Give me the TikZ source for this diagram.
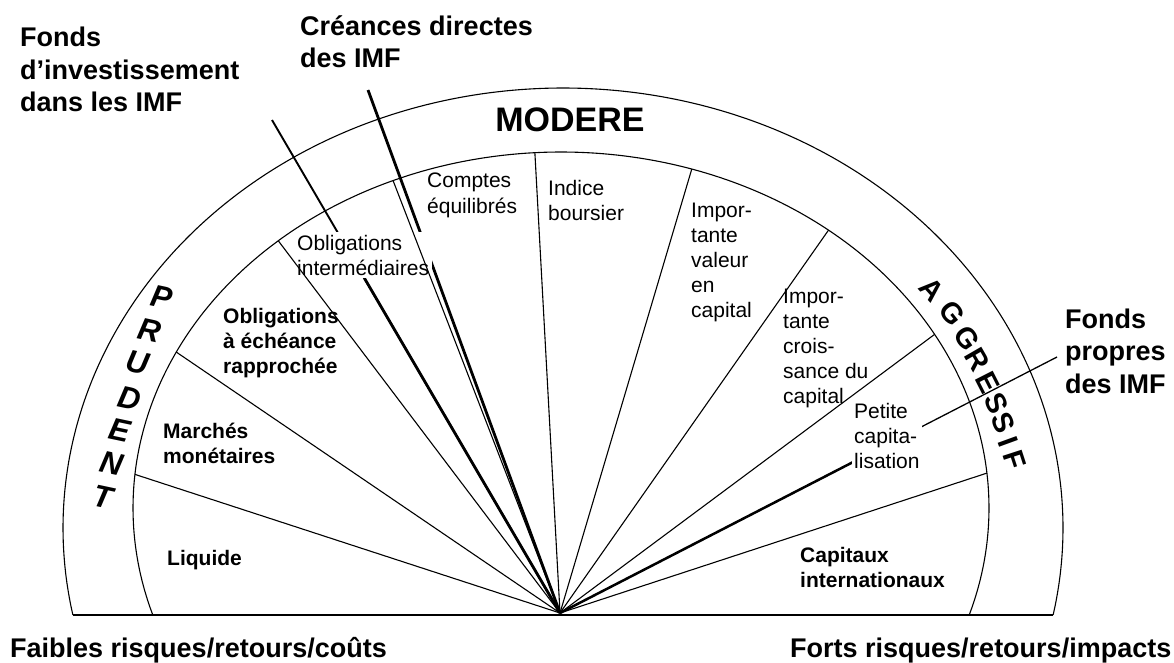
\documentclass[tikz,border=0pt]{standalone}
\usepackage{fontspec}
\setmainfont{Liberation Sans}
\usetikzlibrary{calc}
\begin{document}
\begin{tikzpicture}[x=1pt,y=-1pt,
  arcline/.style={line width=1.1pt},
  rayline/.style={line width=1.1pt},
  midline/.style={line width=1.9pt},
  heavyline/.style={line width=2.8pt},
  biglab/.style={font=\fontsize{27}{32.5}\selectfont\bfseries, align=left, anchor=base west, inner sep=0pt},
  modlab/.style={font=\fontsize{34}{40}\selectfont\bfseries, anchor=base, inner sep=0pt},
  seclab/.style={font=\fontsize{21}{25}\selectfont, align=left, anchor=base west, inner sep=0pt},
  secbold/.style={font=\fontsize{21}{25}\selectfont\bfseries, align=left, anchor=base west, inner sep=0pt},
  prudlet/.style={font=\fontsize{31}{31}\selectfont\bfseries\itshape, inner sep=0pt, rotate=-12},
  aggrlet/.style={font=\fontsize{29}{29}\selectfont\bfseries, inner sep=0pt}
]
\useasboundingbox (0,0) rectangle (1174,663);

% key points
\coordinate (C) at (560,613);
\coordinate (fiEnd) at (272,120);
\coordinate (crEnd) at (368,90);
\coordinate (fpEnd) at (1057,357);
\coordinate (oL) at (72.9,615);
\coordinate (oR) at (1053.1,615);

% ray directions (points on inner arc)
\coordinate (p1) at (143,477);
\coordinate (p2) at (185,358);
\coordinate (p3) at (283,247);
\coordinate (p4) at (394,183);
\coordinate (p6) at (535,155);
\coordinate (p7) at (690,175);
\coordinate (p8) at (823,238);
\coordinate (p9) at (923,343);
\coordinate (p10) at (975,477);

% heavy lines (IMF placements)
\draw[midline] (fiEnd) -- (C);
\draw[heavyline] ($(C)!0.68!(fiEnd)$) -- (C);
\draw[heavyline] (crEnd) -- (C);
\draw[line width=1.3pt] (C) -- (fpEnd);
\draw[line width=2.5pt] (C) -- ($(C)!0.6!(fpEnd)$);

% labels that interrupt lines
\node[seclab, fill=white, inner sep=3pt] (oblint) at (294,275) {Obligations\\intermédiaires};
\node[seclab, fill=white, inner sep=2pt] (pcap) at (852,468) {Petite\\capita-\\lisation};

% arcs and base
\draw[arcline] plot[domain=-11.4:191.4, samples=150, smooth] ({563+500*cos(\x)}, {528-440*sin(\x)});
\draw[arcline] plot[domain=-17.5:197.5, samples=150, smooth] ({561+428*cos(\x)}, {508-356*sin(\x)});
\draw[arcline] (oL) -- (oR);

% sector rays
\begin{scope}
  \clip plot[domain=0:360, samples=150, smooth] ({561+428*cos(\x)}, {508-356*sin(\x)}) -- cycle;
  \foreach \p in {p1,p2,p3,p4,p6,p7,p8,p9,p10}
    \draw[rayline] (C) -- ($(C)!1.3!(\p)$);
\end{scope}

% outer labels
\node[biglab] (fi) at (20,112) {Fonds\\d’investissement\\dans les IMF};
\node[biglab] (cr) at (300,68) {Créances directes\\des IMF};
\node[modlab] (mod) at (570,132) {MODERE};
\node[biglab] (fp) at (1065,393) {Fonds\\propres\\des IMF};
\node[biglab] (fa) at (10,657) {Faibles risques/retours/coûts};
\node[biglab] (fo) at (790,657) {Forts risques/retours/impacts};

% sector labels
\node[secbold] (liq) at (167,565) {Liquide};
\node[secbold] (mm) at (163,463) {Marchés\\monétaires};
\node[secbold] (oer) at (223,373) {Obligations\\à échéance\\rapprochée};
\node[seclab] (ce) at (427,213) {Comptes\\équilibrés};
\node[seclab] (ib) at (548,220) {Indice\\boursier};
\node[seclab] (ivc) at (691,317) {Impor-\\tante\\valeur\\en\\capital};
\node[seclab] (icc) at (783,403) {Impor-\\tante\\crois-\\sance du\\capital};
\node[secbold] (ci) at (800,587) {Capitaux\\internationaux};

% PRUDENT
\foreach \l/\px/\py in {P/162/297, R/150/330, U/138/363, D/130/398, E/120/430, N/112/463, T/103/497}
  \node[prudlet] (prud-\l) at (\px,\py) {\l};

% AGGRESSIF
\foreach \l/\px/\py/\r [count=\i] in {A/932/290/-48, G/952/313/-52, G/967/338/-56, R/977/360/-60, E/988/383/-63, S/997/403/-66, S/1003/423/-68, I/1008/442/-70, F/1015/460/-72}
  \node[aggrlet, rotate=\r] (aggr-\i) at (\px,\py) {\l};
\end{tikzpicture}
\end{document}
